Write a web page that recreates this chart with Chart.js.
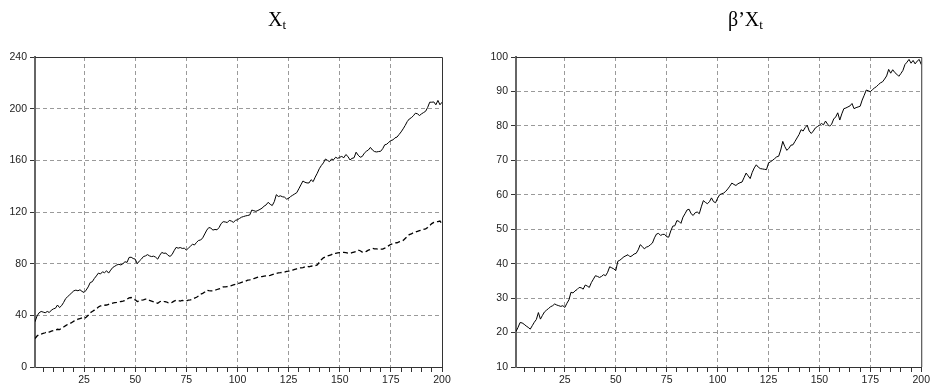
<!DOCTYPE html>
<html>
<head>
<meta charset="utf-8">
<script src="https://cdn.jsdelivr.net/npm/chart.js@4/dist/chart.umd.min.js"></script>
<style>
    html, body { margin: 0; padding: 0; background: #fff; }
    #wrap { position: relative; width: 932px; height: 387px; overflow: hidden; }
    .panel { position: absolute; top: 0; width: 466px; height: 387px; }
    .ttl { position: absolute; top: 7px; font-family: 'Liberation Serif', 'Times New Roman', serif; font-size: 20px; line-height: 24px; color: #000; white-space: nowrap; }
    .ttl sub { font-size: 13px; vertical-align: -3px; line-height: 0; }
</style>
</head>
<body>
<div id="wrap">
    <div class="panel" style="left:0"><canvas id="cLeft" width="466" height="387"></canvas></div>
    <div class="panel" style="left:466px"><canvas id="cRight" width="466" height="387"></canvas></div>
    <div class="ttl" style="left:268px">X<sub>t</sub></div>
    <div class="ttl" style="left:728px">β’X<sub>t</sub></div>
</div>
<script>
// time index t = 1..200
const T = Array.from({ length: 200 }, (_, i) => i + 1);

// X_t, first component (solid)
const xSolid = [
    35.0, 39.5, 42.0, 43.0, 42.5, 42.0, 43.0, 42.2, 44.0, 45.0,
    45.5, 48.0, 46.0, 47.5, 50.0, 53.0, 54.5, 56.0, 57.5, 59.0,
    59.5, 59.0, 59.8, 58.5, 57.7, 59.5, 62.0, 65.4, 66.0, 68.5,
    70.5, 72.7, 72.0, 73.7, 73.0, 74.5, 72.7, 75.0, 77.0, 78.0,
    79.0, 79.5, 79.0, 80.0, 81.5, 81.0, 84.8, 85.0, 84.0, 83.5,
    80.0, 82.0, 83.5, 85.5, 86.0, 87.0, 86.0, 85.5, 85.8, 85.0,
    83.5, 86.5, 88.7, 88.0, 88.2, 86.5, 85.6, 87.0, 90.0, 92.6,
    92.0, 92.5, 91.8, 92.0, 90.5, 92.0, 93.5, 95.0, 94.5, 96.5,
    98.0, 98.3, 100.0, 103.0, 106.0, 108.0, 107.5, 106.0, 106.5, 106.2,
    108.0, 111.0, 112.5, 112.3, 111.8, 113.5, 113.0, 112.0, 113.5, 114.0,
    115.0, 116.0, 116.5, 117.0, 117.3, 117.7, 121.5, 121.0, 120.5, 121.2,
    122.0, 123.0, 124.5, 125.5, 127.5, 126.0, 125.0, 128.0, 133.4, 132.0,
    132.5, 131.8, 131.5, 130.0, 130.5, 132.0, 133.0, 134.0, 135.0, 138.0,
    141.0, 144.0, 143.0, 142.5, 142.5, 145.0, 143.5, 147.0, 150.0, 153.5,
    156.0, 158.0, 161.0, 160.0, 159.0, 161.0, 160.5, 162.4, 161.5, 162.4,
    163.0, 162.0, 164.5, 163.0, 160.3, 161.5, 162.0, 166.3, 164.0, 162.4,
    163.0, 165.5, 167.0, 168.0, 170.0, 168.0, 166.8, 166.5, 166.8, 167.0,
    169.0, 172.0, 172.5, 174.0, 175.3, 175.8, 177.4, 178.0, 180.0, 182.0,
    184.4, 187.0, 190.0, 192.0, 193.0, 194.5, 196.5, 196.0, 194.7, 196.0,
    197.0, 198.0, 201.0, 205.0, 205.0, 205.2, 203.0, 206.4, 203.0, 205.0
];

// X_t, second component (dashed)
const xDashed = [
    22.0, 24.0, 25.3, 25.5, 26.0, 26.5, 27.4, 27.0, 27.8, 28.2,
    28.5, 29.2, 29.0, 30.0, 31.0, 32.0, 33.0, 33.5, 34.5, 35.5,
    36.0, 37.0, 37.5, 38.0, 37.5, 38.5, 40.0, 42.0, 43.0, 44.0,
    45.0, 46.5, 47.3, 47.5, 47.8, 48.0, 48.5, 49.0, 49.5, 49.8,
    50.0, 50.5, 50.7, 51.0, 51.5, 52.5, 53.5, 53.8, 53.0, 52.0,
    50.7, 51.0, 51.8, 52.0, 52.5, 52.5, 51.5, 51.0, 50.5, 49.8,
    49.4, 50.5, 51.2, 50.8, 50.5, 49.8, 49.4, 50.0, 51.0, 51.7,
    51.5, 51.0, 51.5, 51.2, 51.2, 51.8, 52.0, 52.5, 53.3, 54.0,
    55.0, 56.4, 57.0, 58.0, 59.5, 59.2, 59.0, 59.0, 59.5, 60.0,
    60.5, 61.0, 62.0, 62.0, 62.3, 62.5, 63.0, 63.5, 64.0, 64.7,
    65.0, 65.5, 66.0, 66.5, 67.2, 67.5, 68.0, 68.5, 69.0, 69.5,
    69.8, 70.0, 70.3, 70.5, 70.6, 71.0, 71.5, 72.0, 72.5, 72.8,
    73.0, 73.3, 73.5, 74.0, 74.2, 74.5, 75.0, 75.5, 76.0, 76.5,
    76.8, 77.0, 77.5, 78.0, 77.5, 78.0, 78.4, 78.4, 79.0, 81.0,
    83.0, 84.5, 85.3, 86.0, 86.5, 87.0, 88.0, 88.0, 88.3, 88.5,
    88.7, 88.7, 88.5, 88.2, 88.0, 88.5, 89.0, 89.5, 90.5, 90.0,
    89.0, 88.7, 89.5, 90.5, 91.0, 91.8, 91.5, 91.5, 91.2, 91.3,
    91.3, 92.0, 93.0, 94.0, 95.0, 95.5, 96.0, 96.2, 96.8, 97.2,
    98.0, 99.5, 101.0, 102.5, 103.0, 104.0, 104.5, 105.0, 105.5, 106.0,
    106.5, 107.0, 108.0, 109.5, 111.0, 112.0, 112.5, 112.5, 113.0, 111.0
];

// beta'X_t
const betaX = [
    20.3, 21.5, 22.9, 22.8, 22.4, 21.9, 21.5, 21.0, 22.0, 23.0,
    23.8, 25.8, 23.9, 25.0, 26.0, 26.5, 27.0, 27.5, 27.8, 28.3,
    28.0, 27.8, 27.6, 27.8, 27.3, 28.5, 29.5, 31.7, 31.5, 32.1,
    32.5, 33.1, 33.0, 32.6, 33.8, 33.5, 33.1, 34.5, 35.5, 36.5,
    36.3, 36.0, 36.3, 36.8, 36.5, 37.5, 39.1, 38.8, 38.5, 38.0,
    40.7, 41.0, 41.5, 42.0, 42.3, 42.6, 42.0, 42.3, 42.8, 43.0,
    44.0, 45.5, 45.0, 44.3, 44.8, 45.0, 45.5, 46.0, 47.5, 48.6,
    48.8, 48.2, 48.5, 48.5, 47.8, 47.7, 49.5, 50.9, 51.0, 52.5,
    52.3, 51.7, 53.5, 54.5, 55.6, 55.8, 54.5, 54.0, 54.8, 55.0,
    54.5, 56.5, 58.3, 57.8, 57.4, 58.0, 59.1, 58.0, 57.7, 59.0,
    60.0, 60.3, 60.5, 61.0, 61.7, 62.5, 63.4, 63.0, 62.7, 63.2,
    63.5, 63.7, 65.0, 66.3, 65.5, 64.7, 66.5, 67.8, 68.7, 68.0,
    67.6, 67.5, 67.4, 67.3, 69.2, 69.6, 70.0, 70.5, 71.0, 71.2,
    73.0, 75.5, 74.0, 72.9, 73.5, 74.4, 74.5, 75.5, 76.5, 77.5,
    78.9, 78.5, 79.5, 80.2, 78.5, 77.8, 78.5, 79.4, 79.8, 80.2,
    80.7, 80.3, 81.4, 80.5, 79.9, 80.5, 82.0, 82.6, 83.8, 81.7,
    83.5, 85.0, 85.2, 85.5, 85.8, 86.5, 85.0, 85.3, 85.5, 85.7,
    87.5, 88.9, 90.4, 90.2, 89.9, 90.5, 91.0, 91.4, 92.0, 92.5,
    92.8, 93.6, 94.5, 96.4, 95.3, 96.3, 95.5, 95.0, 94.4, 95.2,
    96.1, 97.8, 98.5, 99.3, 98.2, 99.0, 98.0, 98.8, 99.3, 97.8
];

// axis ticks
const X_LABELS   = [25, 50, 75, 100, 125, 150, 175, 200];
const X_MINOR    = Array.from({ length: 40 }, (_, i) => (i + 1) * 5);
const LEFT_Y     = [0, 40, 80, 120, 160, 200, 240];
const RIGHT_Y    = [10, 20, 30, 40, 50, 60, 70, 80, 90, 100];

const FONT  = { family: "'Liberation Sans', Arial, sans-serif", size: 10.5 };
const GRID  = '#9a9a9a';
const CLEAR = 'rgba(0,0,0,0)';

const pts = arr => arr.map((v, i) => ({ x: T[i], y: v }));

// top + right frame lines
const framePlugin = {
    id: 'frame',
    afterDraw(chart) {
        const { ctx, chartArea: a } = chart;
        ctx.save();
        ctx.strokeStyle = '#333';
        ctx.lineWidth = 1;
        ctx.beginPath();
        ctx.moveTo(a.left, a.top + 0.5);
        ctx.lineTo(a.right + 0.5, a.top + 0.5);
        ctx.lineTo(a.right + 0.5, a.bottom);
        ctx.stroke();
        ctx.restore();
    }
};

function makeChart(id, datasets, yTicks, padLeft, padRight) {
    const yMin = yTicks[0], yMax = yTicks[yTicks.length - 1];
    return new Chart(document.getElementById(id), {
        type: 'line',
        data: { datasets },
        options: {
            responsive: false,
            animation: false,
            devicePixelRatio: 1,
            layout: { padding: { top: 57, right: padRight, left: padLeft, bottom: 0 } },
            plugins: { legend: { display: false }, tooltip: { enabled: false } },
            elements: { point: { radius: 0 }, line: { tension: 0 } },
            scales: {
                x: {
                    type: 'linear', min: 1, max: 200,
                    afterBuildTicks: s => { s.ticks = X_MINOR.map(v => ({ value: v })); },
                    afterFit: s => { s.height = 20; },
                    ticks: {
                        autoSkip: false, maxRotation: 0, padding: 2, color: '#222', font: FONT,
                        callback: v => X_LABELS.includes(v) ? String(v) : ''
                    },
                    grid: {
                        color: c => (c.tick && X_LABELS.includes(c.tick.value) && c.tick.value !== 200) ? GRID : CLEAR,
                        tickColor: '#333', tickLength: 5, lineWidth: 1
                    },
                    border: { display: true, color: '#333', width: 1, dash: [4, 3] }
                },
                y: {
                    min: yMin, max: yMax,
                    afterBuildTicks: s => { s.ticks = yTicks.map(v => ({ value: v })); },
                    afterFit: s => { s.width = 35; },
                    ticks: { padding: 3, color: '#222', font: FONT },
                    grid: {
                        color: c => (c.tick && c.tick.value !== yMin && c.tick.value !== yMax) ? GRID : CLEAR,
                        tickColor: '#333', tickLength: 5, lineWidth: 1
                    },
                    border: { display: true, color: '#666', width: 2, dash: [4, 3] }
                }
            }
        },
        plugins: [framePlugin]
    });
}

makeChart('cLeft', [
    { data: pts(xSolid),  borderColor: '#000', borderWidth: 1 },
    { data: pts(xDashed), borderColor: '#000', borderWidth: 1.3, borderDash: [5, 3] }
], LEFT_Y, 0, 24);

makeChart('cRight', [
    { data: pts(betaX), borderColor: '#000', borderWidth: 1 }
], RIGHT_Y, 15, 9);
</script>
</body>
</html>
